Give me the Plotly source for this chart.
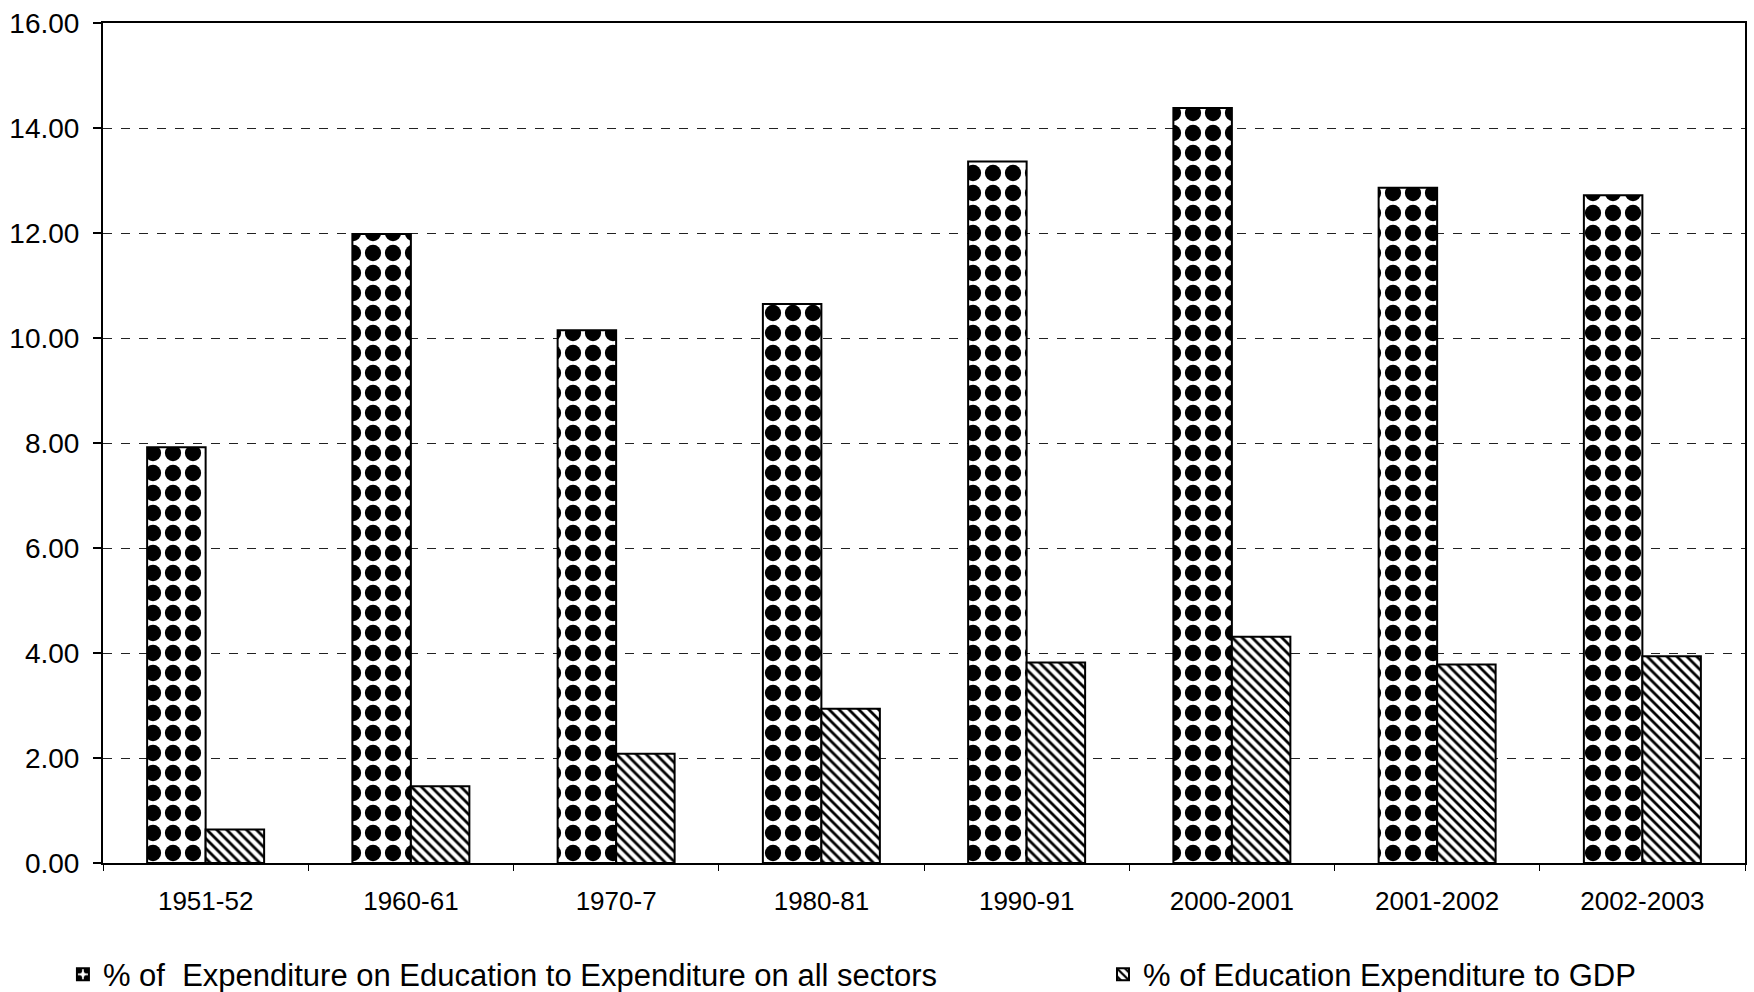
import plotly.graph_objects as go

categories = ["1951-52", "1960-61", "1970-7", "1980-81", "1990-91",
              "2000-2001", "2001-2002", "2002-2003"]
share_of_all_sectors = [7.92, 11.98, 10.15, 10.65, 13.36, 14.38, 12.86, 12.72]
share_of_gdp = [0.64, 1.46, 2.08, 2.94, 3.82, 4.31, 3.78, 3.94]

series_names = ["% of  Expenditure on Education to Expenditure on all sectors",
                "% of Education Expenditure to GDP"]

FONT = "Liberation Sans, Arial, sans-serif"

fig = go.Figure()
fig.add_trace(go.Bar(
    x=categories, y=share_of_all_sectors, name=series_names[0],
    legend="legend",
    marker=dict(color="white",
                line=dict(color="black", width=2),
                pattern=dict(shape=".", fgcolor="black", bgcolor="white",
                             fgopacity=1, size=20, solidity=0.52,
                             fillmode="replace")),
))
fig.add_trace(go.Bar(
    x=categories, y=share_of_gdp, name=series_names[1],
    legend="legend2",
    marker=dict(color="white",
                line=dict(color="black", width=2),
                pattern=dict(shape="\\", fgcolor="black", bgcolor="white",
                             fgopacity=1, size=7, solidity=0.4,
                             fillmode="replace")),
))

legend_common = dict(orientation="h", xanchor="left", yanchor="middle",
                     y=-0.133, font=dict(size=31, family=FONT),
                     itemwidth=30, bgcolor="rgba(0,0,0,0)")

fig.update_layout(
    width=1754, height=992,
    margin=dict(l=103, r=9, t=23, b=129, autoexpand=False),
    paper_bgcolor="white", plot_bgcolor="white",
    barmode="group", bargap=0.43, bargroupgap=0,
    font=dict(family=FONT, color="black", size=25),
    showlegend=True,
    legend=dict(x=-0.0244, **legend_common),
    legend2=dict(x=0.609, **legend_common),
)
fig.update_yaxes(
    range=[0, 16], dtick=2, tickformat=".2f",
    showline=True, linecolor="black", linewidth=2, mirror=True,
    ticks="outside", ticklen=8, tickcolor="black", tickwidth=1.5,
    showgrid=True, gridcolor="#222222", gridwidth=1, griddash="dash",
    tickfont=dict(size=28, family=FONT), ticklabelstandoff=8,
    zeroline=False,
)
fig.update_xaxes(
    type="category",
    showline=True, linecolor="black", linewidth=2, mirror=True,
    ticks="outside", ticklen=6, tickcolor="black", tickson="boundaries",
    tickfont=dict(size=26, family=FONT), ticklabelstandoff=14,
    showgrid=False,
)

fig.write_html("out.html",
               config={"displayModeBar": False},
               post_script="document.body.style.margin='0';"
                           "document.body.style.overflow='hidden';")
